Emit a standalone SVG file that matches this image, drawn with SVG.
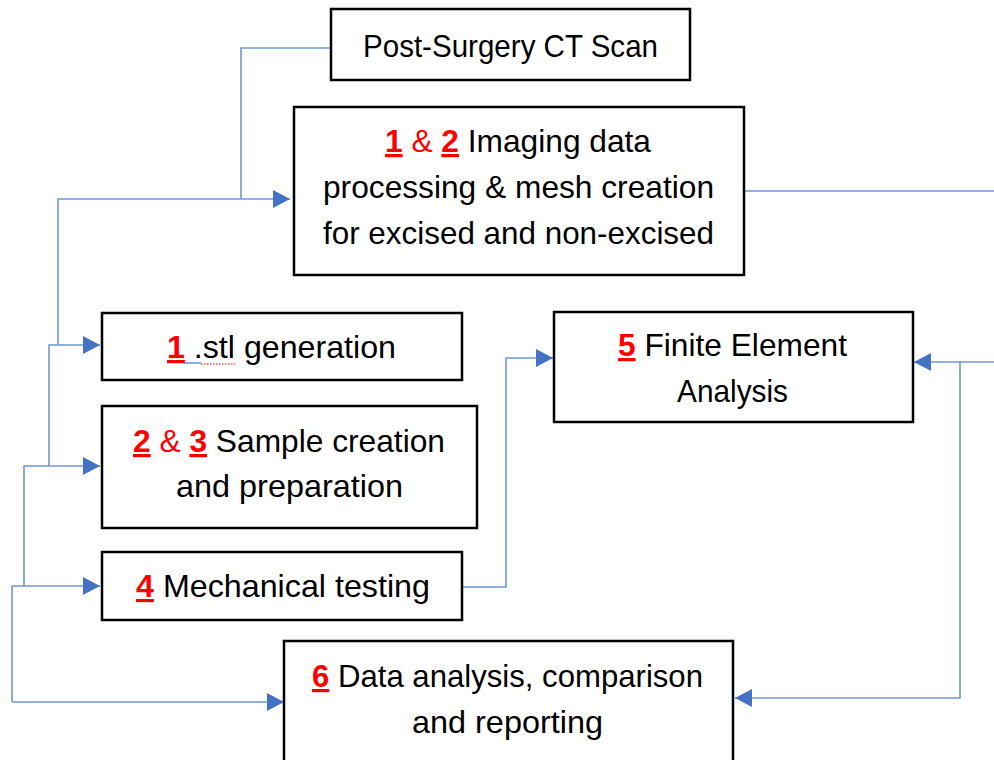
<svg xmlns="http://www.w3.org/2000/svg" width="994" height="760" viewBox="0 0 994 760">
<style>
.box{fill:#fff;stroke:#000;stroke-width:2.5}
.t{font-family:"Liberation Sans",Arial,sans-serif;font-size:32px;fill:#000;text-anchor:middle}
.n{fill:#ff0000;font-weight:bold;text-decoration:underline}
.r{fill:#ff0000}
.c{fill:none;stroke:#6f96d6;stroke-width:1.6}
</style>
<defs>
<marker id="arr" markerUnits="userSpaceOnUse" markerWidth="18" markerHeight="18" refX="17" refY="9" orient="auto">
<path d="M0,0 L17,9 L0,18 z" fill="#4472C4"/>
</marker>
</defs>
<rect width="994" height="760" fill="#fff"/>
<g id="connectors">
<path class="c" d="M331,48 H241 V199"/>
<path class="c" d="M58,345 V199 H290" marker-end="url(#arr)"/>
<path class="c" d="M49,466 V345 H100" marker-end="url(#arr)"/>
<path class="c" d="M24,586 V466 H100" marker-end="url(#arr)"/>
<path class="c" d="M12,702 V586 H100" marker-end="url(#arr)"/>
<path class="c" d="M12,702 H284" marker-end="url(#arr)"/>
<path class="c" d="M462,587 H506 V358 H553" marker-end="url(#arr)"/>
<path class="c" d="M744,191 H994"/>
<path class="c" d="M994,362 H914" marker-end="url(#arr)"/>
<path class="c" d="M960,362 V698 H735" marker-end="url(#arr)"/>
</g>
<g id="post-surgery-ct">
<rect class="box" x="331" y="9" width="359" height="71"/>
<text class="t" x="510.5" y="57" textLength="295" lengthAdjust="spacingAndGlyphs">Post-Surgery CT Scan</text>
</g>
<g id="imaging">
<rect class="box" x="294" y="107" width="450" height="168"/>
<text class="t" x="518" y="152" textLength="266" lengthAdjust="spacingAndGlyphs"><tspan class="n">1</tspan><tspan class="r"> &amp; </tspan><tspan class="n">2</tspan> Imaging data</text>
<text class="t" x="518.5" y="198" textLength="391" lengthAdjust="spacingAndGlyphs">processing &amp; mesh creation</text>
<text class="t" x="518.5" y="244" textLength="391" lengthAdjust="spacingAndGlyphs">for excised and non-excised</text>
</g>
<g id="stl">
<rect class="box" x="102" y="313" width="360" height="67"/>
<text class="t" x="281.5" y="358" textLength="229" lengthAdjust="spacingAndGlyphs"><tspan class="n">1</tspan> .stl generation</text>
<line x1="184" y1="363" x2="201" y2="363" stroke="#4472C4" stroke-width="1.2"/>
<line x1="201" y1="364" x2="235" y2="364" stroke="#ff0000" stroke-width="1.2" stroke-dasharray="1.5,1.5"/>
</g>
<g id="sample">
<rect class="box" x="102" y="406" width="375" height="122"/>
<text class="t" x="289" y="452" textLength="312" lengthAdjust="spacingAndGlyphs"><tspan class="n">2</tspan><tspan class="r"> &amp; </tspan><tspan class="n">3</tspan> Sample creation</text>
<text class="t" x="289.5" y="497" textLength="227" lengthAdjust="spacingAndGlyphs">and preparation</text>
</g>
<g id="mechanical">
<rect class="box" x="102" y="552" width="360" height="68"/>
<text class="t" x="283" y="597" textLength="294" lengthAdjust="spacingAndGlyphs"><tspan class="n">4</tspan> Mechanical testing</text>
</g>
<g id="fea">
<rect class="box" x="554" y="312" width="359" height="110"/>
<text class="t" x="732.5" y="356" textLength="229" lengthAdjust="spacingAndGlyphs"><tspan class="n">5</tspan> Finite Element</text>
<text class="t" x="732.5" y="402" textLength="111" lengthAdjust="spacingAndGlyphs">Analysis</text>
</g>
<g id="data-analysis">
<rect class="box" x="284" y="641" width="449" height="130"/>
<text class="t" x="507.5" y="687" textLength="391" lengthAdjust="spacingAndGlyphs"><tspan class="n">6</tspan> Data analysis, comparison</text>
<text class="t" x="507.5" y="733" textLength="191" lengthAdjust="spacingAndGlyphs">and reporting</text>
</g>
</svg>
